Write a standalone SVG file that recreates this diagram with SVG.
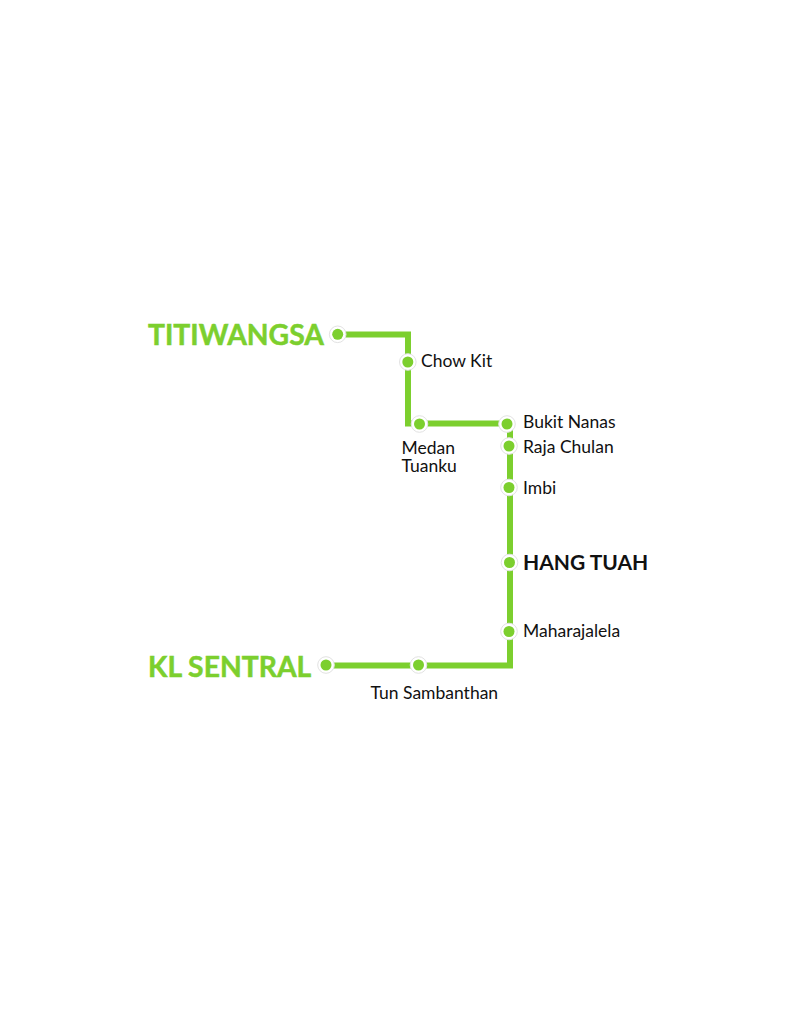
<svg xmlns="http://www.w3.org/2000/svg" width="796" height="1024" viewBox="0 0 796 1024">
<style>
text{font-family:Lato,"Liberation Sans",sans-serif;fill:#111;font-size:17.5px}
.term{fill:#7ccf2e;stroke:#7ccf2e;stroke-width:.5px;font-size:28.3px;font-weight:700}
.hub{font-size:21px;font-weight:700}
.ring{fill:#fff;stroke:#e2e2e2;stroke-width:1}
.dot{fill:#7ccf2e}
.line{fill:none;stroke:#7ccf2e;stroke-width:6}
</style>
<rect width="796" height="1024" fill="#fff"/>
<g id="connectors">
<path class="line" d="M338 334.500H408V423.500H510V665.500H326"/>
</g>
<defs>
<g id="stop"><circle class="ring" r="8.300"/><circle class="dot" r="5.500"/></g>
</defs>
<g id="titiwangsa"><use href="#stop" x="337.700" y="334.300"/><text class="term" x="148" y="345">TITIWANGSA</text></g>
<g id="chow-kit"><use href="#stop" x="407.800" y="362"/><text x="421" y="367">Chow Kit</text></g>
<g id="medan-tuanku"><use href="#stop" x="419.500" y="424"/><text x="401.500" y="454">Medan<tspan x="401.500" dy="18">Tuanku</tspan></text></g>
<g id="bukit-nanas"><use href="#stop" x="507" y="424"/><text x="523" y="428">Bukit Nanas</text></g>
<g id="raja-chulan"><use href="#stop" x="509" y="446"/><text x="523" y="453">Raja Chulan</text></g>
<g id="imbi"><use href="#stop" x="509" y="487.500"/><text x="523" y="494">Imbi</text></g>
<g id="hang-tuah"><use href="#stop" x="509.500" y="562.500"/><text class="hub" x="523" y="570">HANG TUAH</text></g>
<g id="maharajalela"><use href="#stop" x="509" y="631.500"/><text x="523" y="637">Maharajalela</text></g>
<g id="kl-sentral"><use href="#stop" x="326" y="665"/><text class="term" x="148" y="677">KL SENTRAL</text></g>
<g id="tun-sambanthan"><use href="#stop" x="418.500" y="665"/><text x="370.500" y="699">Tun Sambanthan</text></g>
</svg>
